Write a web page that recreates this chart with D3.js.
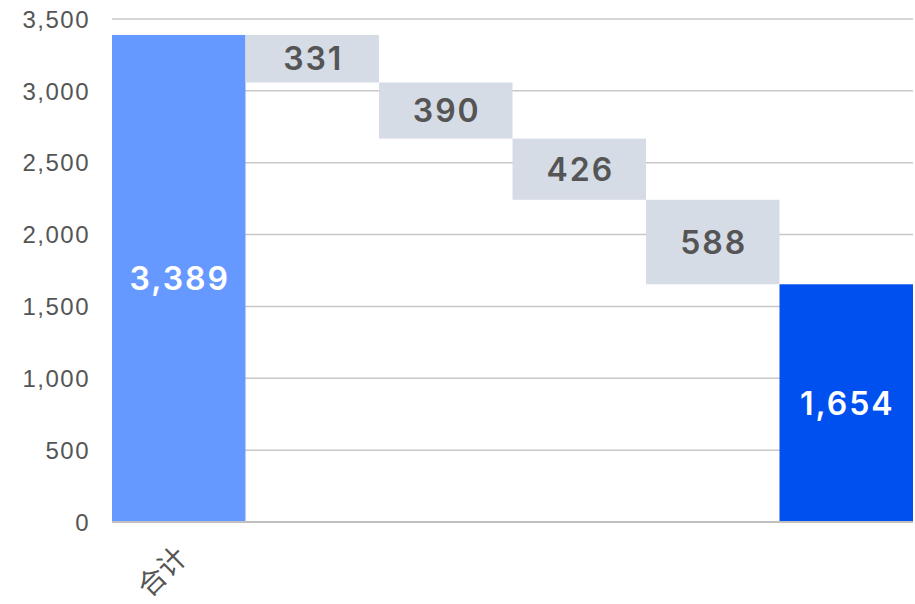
<!DOCTYPE html>
<html>
<head>
<meta charset="utf-8">
<script src="https://cdn.jsdelivr.net/npm/d3@7"></script>
<style>
  body { margin: 0; background: #fff; }
  svg { display: block; }
</style>
</head>
<body>
<div id="chart"></div>
<script>
// waterfall data
var categories = ['合计', '', '', '', '', ''];
var values = [3389, -331, -390, -426, -588, 1654];
var kinds = ['total', 'step', 'step', 'step', 'step', 'total'];
var yTicks = [0, 500, 1000, 1500, 2000, 2500, 3000, 3500];
var barColors = ['#6699ff', '#d6dce6', '#d6dce6', '#d6dce6', '#d6dce6', '#0050f0'];

var width = 915, height = 604;
var margin = {top: 19, right: 2, bottom: 82, left: 112};

var svg = d3.select('#chart').append('svg')
    .attr('width', width)
    .attr('height', height);

var g = svg.append('g')
    .attr('transform', 'translate(' + margin.left + ',' + margin.top + ')');

var w = width - margin.left - margin.right;
var h = height - margin.top - margin.bottom;

var x = d3.scaleBand()
    .domain(d3.range(categories.length))
    .range([0, w])
    .padding(0);

var y = d3.scaleLinear()
    .domain([0, 3500])
    .range([h, 0]);

// compute bar extents
var running = 0;
var bars = values.map(function(v, i) {
    var b;
    if (kinds[i] === 'total') {
        b = {y0: 0, y1: v, label: v};
        running = v;
    } else {
        b = {y0: running + v, y1: running, label: -v};
        running = running + v;
    }
    b.i = i;
    return b;
});

// grid
g.append('g').selectAll('line')
    .data(yTicks)
    .enter().append('line')
    .attr('x1', 0)
    .attr('x2', w)
    .attr('y1', function(d) { return y(d); })
    .attr('y2', function(d) { return y(d); })
    .attr('stroke', '#c8c8c8')
    .attr('stroke-width', 1.5);

// y axis labels
var yAxis = g.append('g')
    .call(d3.axisLeft(y).tickValues(yTicks).tickSize(0).tickPadding(22).tickFormat(d3.format(',')));
yAxis.select('.domain').remove();
yAxis.selectAll('text')
    .attr('fill', '#555')
    .attr('dy', '0.34em')
    .style('font-family', '"Liberation Sans", Arial, sans-serif')
    .style('font-size', '24px')
    .style('letter-spacing', '1.5px');

// bars
g.selectAll('.bar')
    .data(bars)
    .enter().append('rect')
    .attr('class', 'bar')
    .attr('x', function(d) { return x(d.i); })
    .attr('width', x.bandwidth())
    .attr('y', function(d) { return y(d.y1); })
    .attr('height', function(d) { return y(d.y0) - y(d.y1); })
    .attr('fill', function(d) { return barColors[d.i]; });

// baseline
g.append('line')
    .attr('x1', 0).attr('x2', w)
    .attr('y1', y(0)).attr('y2', y(0))
    .attr('stroke', '#c0c0c0')
    .attr('stroke-width', 2);

// value labels
g.selectAll('.val')
    .data(bars)
    .enter().append('text')
    .attr('class', 'val')
    .attr('x', function(d) { return x(d.i) + x.bandwidth() / 2 + 1; })
    .attr('y', function(d) { return (y(d.y0) + y(d.y1)) / 2; })
    .attr('dy', '0.36em')
    .attr('text-anchor', 'middle')
    .attr('fill', function(d) { return kinds[d.i] === 'total' ? '#fff' : '#555'; })
    .style('font-family', 'Inter, Roboto, sans-serif')
    .style('font-weight', '600')
    .style('font-size', '32px')
    .style('letter-spacing', '2px')
    .text(function(d) { return d3.format(',')(d.label); });

// x labels
g.selectAll('.cat')
    .data(categories)
    .enter().append('text')
    .attr('class', 'cat')
    .attr('transform', function(d, i) {
        return 'translate(' + (x(i) + x.bandwidth() / 2 + 10) + ',' + (h + 37) + ') rotate(-45)';
    })
    .attr('text-anchor', 'end')
    .attr('fill', '#555')
    .style('font-family', '"Noto Sans CJK SC", sans-serif')
    .style('font-size', '28px')
    .text(function(d) { return d; });
</script>
</body>
</html>
